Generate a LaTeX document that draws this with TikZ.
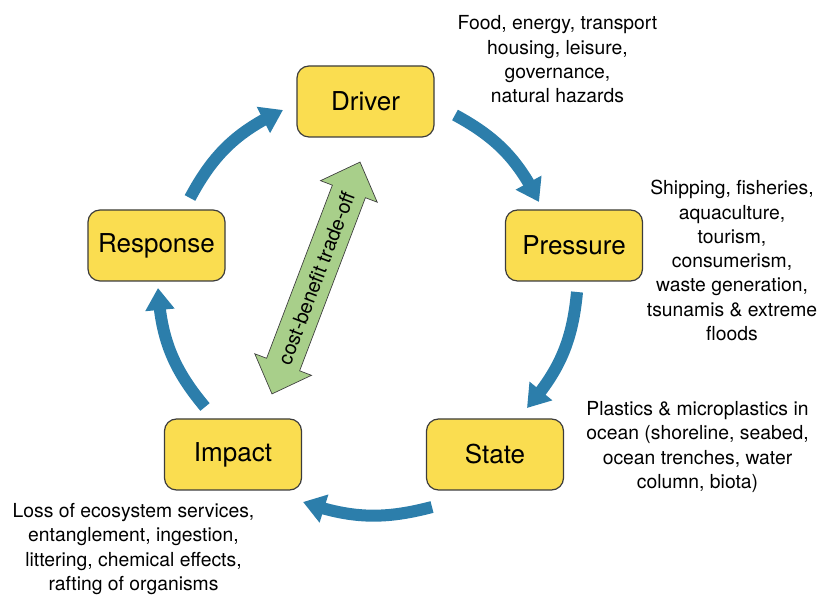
\documentclass[tikz,border=0pt]{standalone}
\usepackage{fontspec}
\setmainfont{TeX Gyre Heros}
\usetikzlibrary{arrows.meta,shapes.arrows,bending}
\definecolor{boxyellow}{RGB}{250,221,80}
\definecolor{boxline}{RGB}{60,60,60}
\definecolor{flowblue}{RGB}{44,126,171}
\definecolor{tradegreen}{RGB}{168,207,138}

\begin{document}
\begin{tikzpicture}[x=0.75pt,y=0.75pt,
		main node/.style={rectangle,rounded corners=9pt,draw=boxline,line width=0.9pt,fill=boxyellow,
			minimum width=102.75pt,minimum height=53.25pt,font=\fontsize{19.5}{23}\selectfont},
		label node/.style={align=center,font=\fontsize{14.5}{18.2}\selectfont},
		flow/.style={color=flowblue,line width=9pt,-{Triangle[length=16.5pt,width=21pt]}},
		trade arrow/.style={double arrow,draw=boxline,line width=0.5pt,fill=tradegreen,
			double arrow head extend=9.5pt,double arrow tip angle=88,minimum height=186pt,
			inner xsep=0pt,inner ysep=7.5pt,text height=11pt,text depth=0pt,
			font=\fontsize{15}{18}\selectfont}]
		
		\useasboundingbox (0,0) rectangle (817,595);
		
		\node[main node] (driver) at (365.5,493.5) {Driver};
		\node[main node] (pressure) at (574,349.5) {Pressure};
		\node[main node] (state) at (495,140.5) {State};
		\node[main node] (impact) at (233,140.5) {Impact};
		\node[main node] (response) at (156.5,349.5) {Response};
		
		\node[label node] (driverinfo) at (557.5,535.5) {Food, energy, transport\\housing, leisure,\\governance,\\natural hazards};
		\node[label node] (pressureinfo) at (732,334.5) {Shipping, fisheries,\\aquaculture,\\tourism,\\consumerism,\\waste generation,\\tsunamis \& extreme\\floods};
		\node[label node] (stateinfo) at (697.5,148) {Plastics \& microplastics in\\ocean (shoreline, seabed,\\ocean trenches, water\\column, biota)};
		\node[label node] (impactinfo) at (133.5,46) {Loss of ecosystem services,\\entanglement, ingestion,\\littering, chemical effects,\\rafting of organisms};
		
		% ends of the cycle arrows
		\coordinate (rd1) at (190,397);
		\coordinate (rd2) at (283,485);
		\coordinate (dp1) at (455,480);
		\coordinate (dp2) at (539,393);
		\coordinate (ps1) at (577,303);
		\coordinate (ps2) at (527,187);
		\coordinate (si1) at (432,88);
		\coordinate (si2) at (303,93);
		\coordinate (ir1) at (205,188);
		\coordinate (ir2) at (158,307);
		
		\draw[flow] (rd1) to[bend left=18.5] (rd2);
		\draw[flow] (dp1) to[bend left=17.5] (dp2);
		\draw[flow] (ps1) to[bend left=18] (ps2);
		\draw[flow] (si1) to[bend left=17] (si2);
		\draw[flow] (ir1) to[bend left=18.5] (ir2);
		
		\node[trade arrow,rotate=69.2] (tradeoff) at (316,317) {cost-benefit trade-off};
		\end{tikzpicture}
\end{document}
